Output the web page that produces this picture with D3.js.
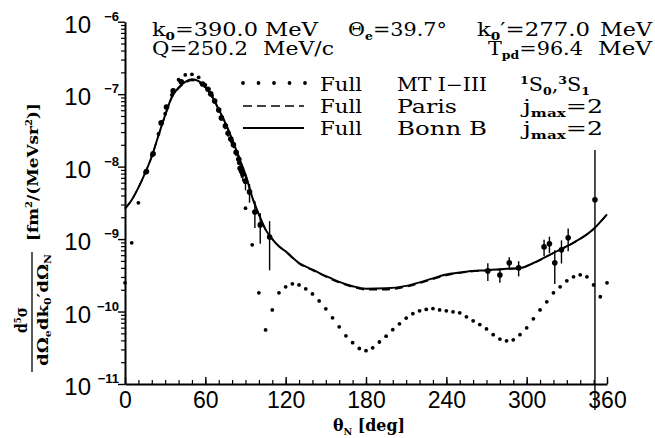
<!DOCTYPE html>
<html>
<head>
<meta charset="utf-8">
<script src="https://cdnjs.cloudflare.com/ajax/libs/d3/7.8.5/d3.min.js"></script>
<style>
  body { margin: 0; background: #fff; }
  svg text { fill: #000; }
</style>
</head>
<body>
<svg id="chart" width="655" height="438"></svg>
<script>
// theory curves (deg, d5sigma)
var bonnDeg = [0, 5, 10, 15, 20, 25, 30, 35, 40, 45, 50, 55, 60, 65, 70, 75, 80, 85, 90, 95, 100, 105, 110, 115, 120, 130, 140, 150, 160, 170, 180, 195, 210, 225, 240, 255, 270, 285, 295, 305, 320, 335, 350, 360];
var bonnVal = [2.63e-9, 3.47e-9, 5.13e-9, 8.13e-9, 1.38e-8, 2.69e-8, 5.13e-8, 9.12e-8, 1.23e-7, 1.48e-7, 1.60e-7, 1.51e-7, 1.26e-7, 9.33e-8, 6.17e-8, 3.98e-8, 2.40e-8, 1.35e-8, 7.76e-9, 3.80e-9, 2.19e-9, 1.35e-9, 1.0e-9, 7.94e-10, 6.76e-10, 4.68e-10, 3.80e-10, 3.09e-10, 2.57e-10, 2.24e-10, 2.07e-10, 2.09e-10, 2.26e-10, 2.69e-10, 3.24e-10, 3.55e-10, 3.72e-10, 3.89e-10, 3.98e-10, 4.68e-10, 6.46e-10, 8.91e-10, 1.38e-9, 2.19e-9];
var parisVal = [2.63e-9, 3.47e-9, 5.13e-9, 8.13e-9, 1.38e-8, 2.69e-8, 5.10e-8, 9.0e-8, 1.20e-7, 1.43e-7, 1.54e-7, 1.46e-7, 1.22e-7, 9.2e-8, 6.12e-8, 3.96e-8, 2.40e-8, 1.35e-8, 7.76e-9, 3.80e-9, 2.19e-9, 1.35e-9, 1.0e-9, 7.9e-10, 6.7e-10, 4.6e-10, 3.72e-10, 3.02e-10, 2.5e-10, 2.18e-10, 2.0e-10, 2.0e-10, 2.2e-10, 2.62e-10, 3.15e-10, 3.5e-10, 3.68e-10, 3.85e-10, 3.95e-10, 4.65e-10, 6.4e-10, 8.9e-10, 1.38e-9, 2.19e-9];

// MT I-III, S-waves only, every 5 deg from 0 to 360
var mtDeg = d3.range(0, 361, 5);
var mtVal = [2.49e-10, 8.87e-10, 3.16e-9, 8.32e-9, 1.445e-8, 2.82e-8, 5.37e-8, 9.77e-8, 1.585e-7, 1.84e-7,
  1.88e-7, 1.71e-7, 1.34e-7, 9.55e-8, 6.17e-8, 3.80e-8, 2.19e-8, 1.12e-8, 2.67e-9, 8.32e-10,
  1.81e-10, 5.58e-11, 1.054e-10, 1.81e-10, 2.19e-10, 2.41e-10, 2.33e-10, 2.06e-10, 1.75e-10, 1.40e-10,
  1.09e-10, 8.18e-11, 6.15e-11, 4.62e-11, 3.72e-11, 3.09e-11, 2.88e-11, 3.16e-11, 3.80e-11, 4.57e-11,
  5.62e-11, 6.76e-11, 8.13e-11, 9.33e-11, 1.023e-10, 1.07e-10, 1.10e-10, 1.054e-10, 1.023e-10, 9.91e-11,
  9.59e-11, 8.45e-11, 7.45e-11, 6.61e-11, 5.75e-11, 4.79e-11, 4.17e-11, 3.94e-11, 4.07e-11, 4.79e-11,
  5.96e-11, 7.94e-11, 1.054e-10, 1.36e-10, 1.81e-10, 2.19e-10, 2.65e-10, 3.01e-10, 3.21e-10, 3.01e-10,
  2.33e-10, 1.60e-10, 2.49e-10];

// measured points with errors
var expDeg = [16, 21, 27, 31, 36, 42, 58, 62, 64, 67, 70, 72, 75, 77, 79, 81, 83, 85, 86, 87, 88, 90, 93, 97, 101, 108,
  271, 280, 287, 294, 313, 317, 321, 326, 331, 351];
var expVal = [8.53e-9, 1.50e-8, 4.01e-8, 6.65e-8, 1.11e-7, 1.48e-7, 1.38e-7, 1.17e-7, 1.01e-7, 8.05e-8, 6.05e-8, 4.70e-8, 3.63e-8, 2.88e-8, 2.40e-8, 2.0e-8, 1.58e-8, 1.26e-8, 9.5e-9, 8.7e-9, 7.9e-9, 6.3e-9, 4.48e-9, 2.37e-9, 1.57e-9, 1.07e-9,
  3.64e-10, 3.2e-10, 4.7e-10, 4.0e-10, 7.8e-10, 8.6e-10, 4.7e-10, 7.1e-10, 1.04e-9, 3.48e-9];
var expErr = [6.8e-10, 1.2e-9, 2.8e-9, 4.7e-9, 7.8e-9, 8.9e-9, 8.3e-9, 7.0e-9, 7.1e-9, 5.6e-9, 4.8e-9, 3.8e-9, 3.6e-9, 2.9e-9, 2.4e-9, 2.0e-9, 1.9e-9, 1.9e-9, 1.4e-9, 1.7e-9, 1.6e-9, 1.6e-9, 1.3e-9, 9.5e-10, 7.1e-10, 7.0e-10,
  1.0e-10, 0.7e-10, 0.9e-10, 0.95e-10, 2.0e-10, 2.2e-10, 2.3e-10, 2.5e-10, 3.6e-10, 1.35e-8];

var xTicks = [0, 60, 120, 180, 240, 300, 360];
var yDecades = [-11, -10, -9, -8, -7, -6];

var svg = d3.select("#chart"),
    serif = "'DejaVu Serif', serif",
    sans = "'Liberation Sans', Arial, sans-serif";

var x = d3.scaleLinear().domain([0, 360]).range([125, 607]);
var y = d3.scaleLog().domain([1e-11, 1e-6]).range([384, 21.7]);

// x axis: minor every 10, labels every 60, ticks pointing up
svg.append("g").attr("transform", "translate(0,384)")
  .call(d3.axisBottom(x).tickValues(d3.range(0, 361, 10)).tickSizeInner(-4).tickSizeOuter(0).tickFormat(""))
  .call(function (g) { g.select(".domain").attr("stroke-width", 2); g.selectAll(".tick line").attr("stroke-width", 1.2); });
svg.append("g").attr("transform", "translate(0,384)")
  .call(d3.axisBottom(x).tickValues(xTicks).tickSizeInner(-7).tickSizeOuter(0).tickPadding(8))
  .call(function (g) {
    g.select(".domain").remove();
    g.selectAll(".tick line").attr("stroke-width", 1.4);
    g.selectAll("text").attr("font-family", sans).attr("font-size", 23).attr("fill", "#000");
  });

// y axis
var minorY = [];
yDecades.slice(0, -1).forEach(function (e) {
  for (var m = 2; m < 10; m++) minorY.push(m * Math.pow(10, e));
});
svg.append("g").attr("transform", "translate(125,0)")
  .call(d3.axisLeft(y).tickValues(minorY).tickSizeInner(4).tickSizeOuter(0).tickFormat(""))
  .call(function (g) { g.select(".domain").attr("stroke-width", 2); g.selectAll(".tick line").attr("stroke-width", 1.2); });
svg.append("g").attr("transform", "translate(125,0)")
  .call(d3.axisLeft(y).tickValues(yDecades.map(function (e) { return Math.pow(10, e); })).tickSizeInner(7).tickSizeOuter(0).tickFormat(""))
  .call(function (g) { g.select(".domain").remove(); g.selectAll(".tick line").attr("stroke-width", 1.4); });

var yLab = svg.append("g");
yDecades.forEach(function (e) {
  var ty = y(Math.pow(10, e));
  yLab.append("text").attr("x", 91).attr("y", ty + 11).attr("text-anchor", "end")
    .attr("font-family", sans).attr("font-size", 24).text("10");
  yLab.append("text").attr("x", 119).attr("y", ty - 1).attr("text-anchor", "end")
    .attr("font-family", sans).attr("font-size", 13).attr("font-weight", "bold").text("\u2212" + (-e));
});

// rich text helper: segs = [[text, "sub"|"sup"|null], ...]
// the text is stretched horizontally to the width it has in the reference
function rich(parent, px, py, segs, size, len, weight, anchor) {
  var t = parent.append("text").attr("x", 0).attr("y", 0)
    .attr("font-family", serif).attr("font-size", size)
    .attr("font-weight", weight || "normal").attr("text-anchor", anchor || "start");
  var shift = 0;
  segs.forEach(function (s) {
    var target = s[1] === "sub" ? size * 0.22 : s[1] === "sup" ? -size * 0.4 : 0;
    var ts = t.append("tspan").attr("dy", target - shift).text(s[0]);
    if (s[1]) ts.attr("font-size", size * 0.6).attr("font-weight", "bold");
    shift = target;
  });
  var sx = 1;
  if (len) {
    var w = t.node().getComputedTextLength();
    if (w > 0) sx = len / w;
  }
  t.attr("transform", "translate(" + px + "," + py + ") scale(" + sx + ",1)");
  return t;
}

// theory curves
var line = function (vals) {
  return d3.line().x(function (d, i) { return x(bonnDeg[i]); }).y(function (d) { return y(d); })
    .curve(d3.curveMonotoneX)(vals);
};
svg.append("path").attr("d", line(bonnVal)).attr("fill", "none").attr("stroke", "#000").attr("stroke-width", 2);
svg.append("path").attr("d", line(parisVal)).attr("fill", "none").attr("stroke", "#000")
  .attr("stroke-width", 1.6).attr("stroke-dasharray", "8,5");

svg.append("g").selectAll("circle").data(mtVal).enter().append("circle")
  .attr("cx", function (d, i) { return x(mtDeg[i]); })
  .attr("cy", function (d) { return y(d); })
  .attr("r", 1.9).attr("fill", "#000");

// data with error bars
var pts = svg.append("g");
expVal.forEach(function (v, i) {
  var lo = v - expErr[i], hi = v + expErr[i];
  var yLo = lo > 0 ? y(lo) : y.range()[0] + 26;
  pts.append("line").attr("x1", x(expDeg[i])).attr("x2", x(expDeg[i]))
    .attr("y1", y(hi)).attr("y2", yLo).attr("stroke", "#000").attr("stroke-width", 1.4);
  pts.append("circle").attr("cx", x(expDeg[i])).attr("cy", y(v)).attr("r", 2.8).attr("fill", "#000");
});

// header text
var hd = svg.append("g");
rich(hd, 152, 36, [["k"], ["0", "sub"], ["=390.0"]], 18, 106);
rich(hd, 265, 36, [["MeV"]], 18, 53);
rich(hd, 348, 36, [["\u0398"], ["e", "sub"], ["=39.7\u00b0"]], 18, 99);
rich(hd, 477, 36, [["k"], ["0", "sub"], ["\u2032=277.0"]], 18, 113);
rich(hd, 600, 36, [["MeV"]], 18, 52);
rich(hd, 152, 55, [["Q=250.2"]], 18, 96);
rich(hd, 263, 55, [["MeV/c"]], 18, 71);
rich(hd, 488, 55, [["T"], ["pd", "sub"], ["=96.4"]], 18, 95);
rich(hd, 598, 55, [["MeV"]], 18, 54);

// legend
var lg = svg.append("g");
var rows = [
  { yb: 91, ym: 83, name: "MT I\u2212III", nlen: 90, tag: [["1", "sup"], ["S"], ["0", "sub"], [","], ["3", "sup"], ["S"], ["1", "sub"]], tx: 520, tlen: 70 },
  { yb: 113, ym: 106, name: "Paris", nlen: 60, tag: [["j"], ["max", "sub"], ["=2"]], tx: 523, tlen: 80 },
  { yb: 135, ym: 128, name: "Bonn B", nlen: 90, tag: [["j"], ["max", "sub"], ["=2"]], tx: 523, tlen: 80 }
];
rows.forEach(function (r, k) {
  rich(lg, 320, r.yb, [["Full"]], 18, 42);
  rich(lg, 397, r.yb, [[r.name]], 18, r.nlen);
  rich(lg, r.tx, r.yb, r.tag, 18, r.tlen);
  if (k === 0) {
    lg.selectAll("circle.lgd").data(d3.range(5)).enter().append("circle")
      .attr("cx", function (d) { return 243 + d * 15.5; }).attr("cy", r.ym).attr("r", 1.9).attr("fill", "#000");
  } else {
    lg.append("line").attr("x1", 243).attr("x2", 304).attr("y1", r.ym).attr("y2", r.ym)
      .attr("stroke", "#000").attr("stroke-width", k === 1 ? 1.6 : 2)
      .attr("stroke-dasharray", k === 1 ? "9,5" : null);
  }
});

// axis titles
rich(svg, 369, 431, [["\u03b8"], ["N", "sub"], [" [deg]"]], 16, 72, "bold", "middle");

var yt = svg.append("g").attr("transform", "rotate(-90)");
rich(yt, -320, 27, [["d"], ["5", "sup"], ["\u03c3"]], 16, 26, "bold", "middle");
yt.append("line").attr("x1", -372).attr("x2", -252).attr("y1", 32).attr("y2", 32).attr("stroke", "#000").attr("stroke-width", 1.3);
rich(yt, -310, 48, [["d\u03a9"], ["e", "sub"], ["dk"], ["0", "sub"], ["\u2032d\u03a9"], ["N", "sub"]], 15, 112, "bold", "middle");
rich(yt, -172, 38, [["[fm"], ["2", "sup"], ["/(MeVsr"], ["2", "sup"], [")]"]], 15, 138, "bold", "middle");
</script>
</body>
</html>
